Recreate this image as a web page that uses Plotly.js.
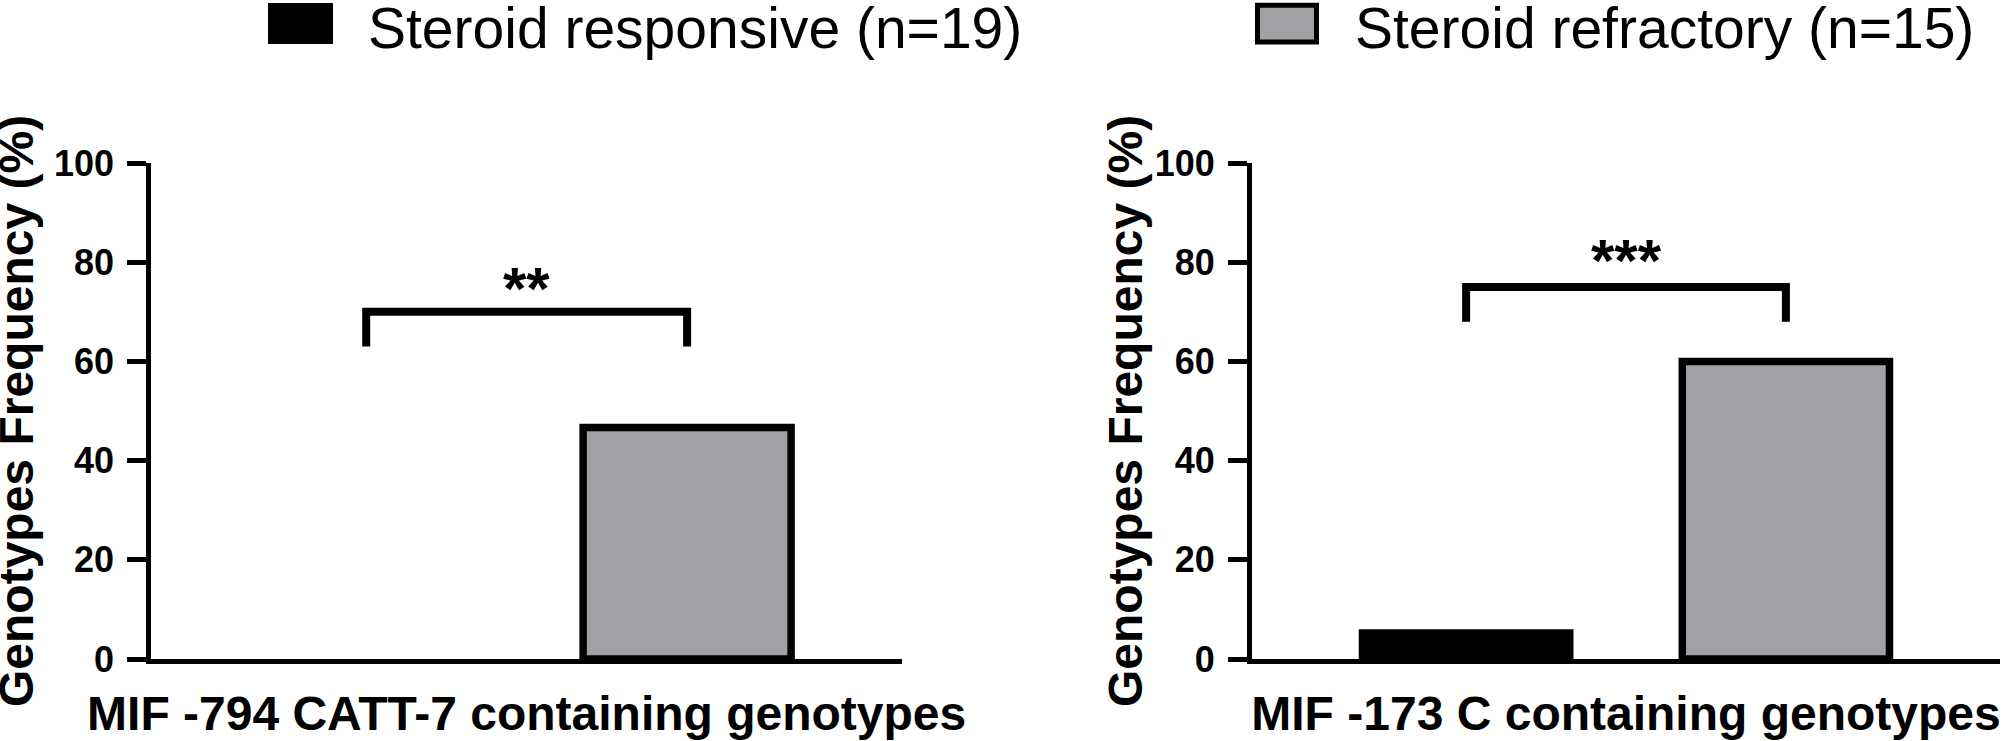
<!DOCTYPE html>
<html>
<head>
<meta charset="utf-8">
<script src="https://cdn.plot.ly/plotly-3.0.1.min.js"></script>
<style>
  html, body { margin: 0; padding: 0; background: #ffffff; overflow: hidden; }
  #chart { width: 2005px; height: 741px; }
</style>
</head>
<body>
<div id="chart"></div>
<script>
// ---- data ----
const categories = ['MIF -794 CATT-7 containing genotypes', 'MIF -173 C containing genotypes'];
const seriesNames = ['Steroid responsive (n=19)', 'Steroid refractory (n=15)'];
const responsive = [0, 5.26];      // % (0/19, 1/19)
const refractory = [46.67, 60];    // % (7/15, 9/15)
const significance = ['**', '***'];
const yTickVals = [0, 20, 40, 60, 80, 100];
const yTickText = ['0', '20', '40', '60', '80', '100'];
const yTitle = 'Genotypes Frequency (%)';

// ---- layout helpers ----
const W = 2005, H = 741;
const FONT = 'Liberation Sans, Arial, Helvetica, sans-serif';
const px = xr => xr / W;           // pixel -> paper fraction
const py = yr => 1 - yr / H;
const colors = ['#000000', '#a0a0a5'];
const bargap = 0.145, bargroupgap = 0.352;
const off = (1 - bargap) / 4;      // bar centre offset from category centre
const bracketTop = [70, 75];
const bracketDrop = 7;
const starY = [74.6, 80.4];

const axes = ['', '2'];
const traces = [];
[responsive, refractory].forEach((series, s) => {
  categories.forEach((cat, i) => {
    traces.push({
      type: 'bar',
      x: [cat],
      y: [series[i]],
      name: seriesNames[s],
      xaxis: 'x' + axes[i],
      yaxis: 'y' + axes[i],
      marker: { color: colors[s], line: { color: '#000000', width: series[i] > 0 ? 7.5 : 0 } },
      showlegend: false,
      hoverinfo: 'skip'
    });
  });
});

const yDomain = [py(659), py(163)];
const xDomains = [[px(151.3), px(902)], [px(1252), px(2000)]];

function xAxis(i) {
  return {
    domain: xDomains[i],
    anchor: 'y' + axes[i],
    type: 'category',
    showline: true, linewidth: 5, linecolor: '#000000',
    showgrid: false, zeroline: false,
    ticks: 'outside', ticklen: 8, tickcolor: 'rgba(0,0,0,0)',
    tickfont: { family: FONT, size: 48, color: '#000000', weight: 'bold' },
    fixedrange: true
  };
}
function yAxis(i) {
  return {
    domain: yDomain,
    anchor: 'x' + axes[i],
    range: [0, 100],
    tickmode: 'array', tickvals: yTickVals, ticktext: yTickText,
    showline: true, linewidth: 5, linecolor: '#000000',
    showgrid: false, zeroline: false,
    ticks: 'outside', ticklen: 19, tickwidth: 5, tickcolor: '#000000',
    ticklabelstandoff: 6,
    tickfont: { family: FONT, size: 36, color: '#000000', weight: 'bold' },
    fixedrange: true
  };
}

const shapes = [];
const annotations = [];
const yTitleX = [px(16), px(1125)];
categories.forEach((cat, i) => {
  const t = bracketTop[i], b = t - bracketDrop;
  shapes.push({
    type: 'path', xref: 'x' + axes[i], yref: 'y' + axes[i],
    path: `M${-off},${b} L${-off},${t} L${off},${t} L${off},${b}`,
    line: { color: '#000000', width: 8 }
  });
  annotations.push({
    xref: 'x' + axes[i], yref: 'y' + axes[i], x: 0, y: starY[i],
    text: significance[i], showarrow: false, xanchor: 'center', yanchor: 'middle',
    font: { family: FONT, size: 60, color: '#000000', weight: 'bold' }
  });
  // y-axis title
  annotations.push({
    xref: 'paper', yref: 'paper', x: yTitleX[i], y: (yDomain[0] + yDomain[1]) / 2,
    xanchor: 'center', yanchor: 'middle', textangle: -90, showarrow: false,
    text: yTitle,
    font: { family: FONT, size: 48, color: '#000000', weight: 'bold' }
  });
});

// legend (drawn by hand so the swatches keep the original size)
const legendSwatches = [
  { x0: px(268), x1: px(333), y0: py(44), y1: py(3), fill: colors[0], lw: 0 },
  { x0: px(1257.5), x1: px(1316.5), y0: py(42), y1: py(5.3), fill: colors[1], lw: 5 }
];
const legendTextX = [px(366), px(1353)];
legendSwatches.forEach((sw, s) => {
  shapes.push({
    type: 'rect', xref: 'paper', yref: 'paper',
    x0: sw.x0, x1: sw.x1, y0: sw.y0, y1: sw.y1,
    fillcolor: sw.fill, line: { color: '#000000', width: sw.lw }
  });
  annotations.push({
    xref: 'paper', yref: 'paper', x: legendTextX[s], y: py(28),
    xanchor: 'left', yanchor: 'middle', showarrow: false,
    text: seriesNames[s],
    font: { family: FONT, size: 57, color: '#000000' }
  });
});

const layout = {
  width: W, height: H,
  margin: { l: 0, r: 0, t: 0, b: 0, pad: 0, autoexpand: false },
  paper_bgcolor: '#ffffff', plot_bgcolor: '#ffffff',
  barmode: 'group', bargap: bargap, bargroupgap: bargroupgap,
  showlegend: false,
  xaxis: xAxis(0), yaxis: yAxis(0),
  xaxis2: xAxis(1), yaxis2: yAxis(1),
  shapes: shapes,
  annotations: annotations,
  font: { family: FONT, color: '#000000' }
};

Plotly.newPlot('chart', traces, layout, { staticPlot: true, displayModeBar: false });
</script>
</body>
</html>
